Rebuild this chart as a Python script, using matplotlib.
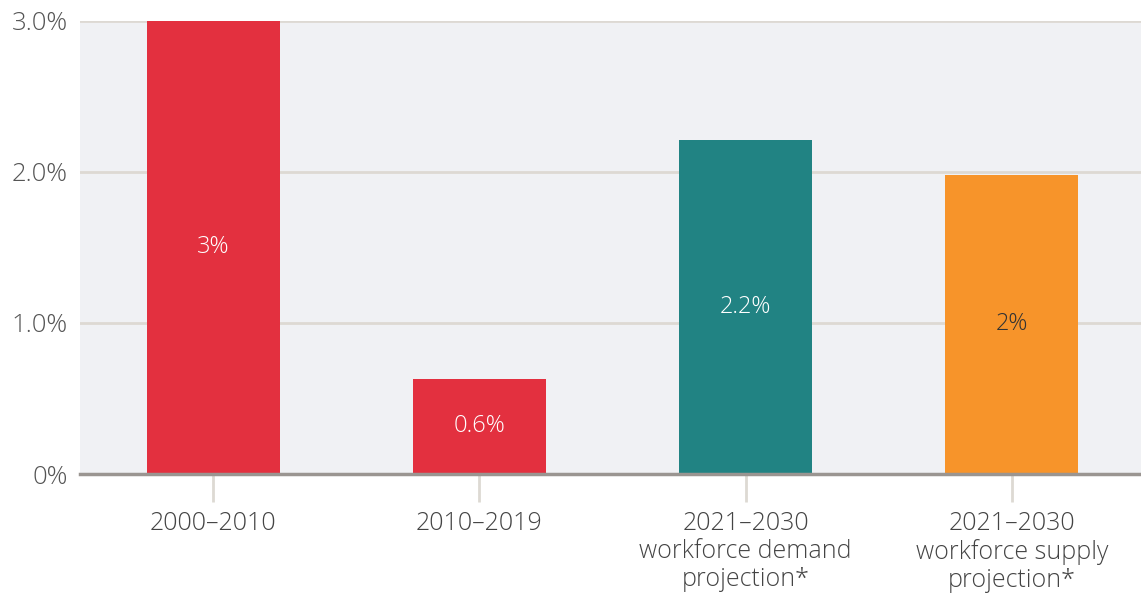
import matplotlib
matplotlib.use("Agg")
import matplotlib.pyplot as plt

categories = ["2000–2010", "2010–2019", "2021–2030\nworkforce demand\nprojection*", "2021–2030\nworkforce supply\nprojection*"]
values = [3.0, 0.63, 2.21, 1.98]
bar_labels = ["3%", "0.6%", "2.2%", "2%"]
colors = ["#E3303F", "#E3303F", "#218383", "#F7942A"]
label_colors = ["white", "white", "white", "#333333"]
yticks = [0, 1, 2, 3]
ytick_labels = ["0%", "1.0%", "2.0%", "3.0%"]

plt.rcParams['font.family'] = ['Open Sans', 'DejaVu Sans']

fig = plt.figure(figsize=(11.41, 5.94), dpi=100)
ax = fig.add_axes([80/1141, 120/594, 1 - 80/1141, (474-20.5)/594])
ax.set_facecolor("#F0F1F4")

x = list(range(len(categories)))
bars = ax.bar(x, values, width=0.5, color=colors, zorder=3)
for xi, v, lab, lc in zip(x, values, bar_labels, label_colors):
    ax.text(xi, v/2, lab, ha="center", va="center", color=lc, fontsize=17, fontweight="light", zorder=4)

ax.set_xlim(-0.5, 3.485)
ax.set_ylim(0, 3.0)
ax.set_yticks(yticks)
ax.set_yticklabels(ytick_labels)
ax.set_xticks(x)
ax.set_xticklabels(categories, linespacing=1.15)

for s in ["top", "right", "left"]:
    ax.spines[s].set_visible(False)
ax.spines["bottom"].set_color("#9A9591")
ax.spines["bottom"].set_linewidth(2.5)
ax.spines["bottom"].set_zorder(5)

ax.yaxis.grid(True, color="#DDD9D3", linewidth=2, zorder=1)
ax.set_axisbelow(True)
ax.tick_params(axis="y", length=0, pad=9, labelsize=18.5, labelcolor="#555555")
ax.tick_params(axis="x", length=20, width=2, color="#DDD9D3", pad=7, labelsize=18, labelcolor="#444444")
for t in ax.get_yticklabels() + ax.get_xticklabels():
    t.set_fontweight("light")

fig.savefig("out.png", dpi=100)
